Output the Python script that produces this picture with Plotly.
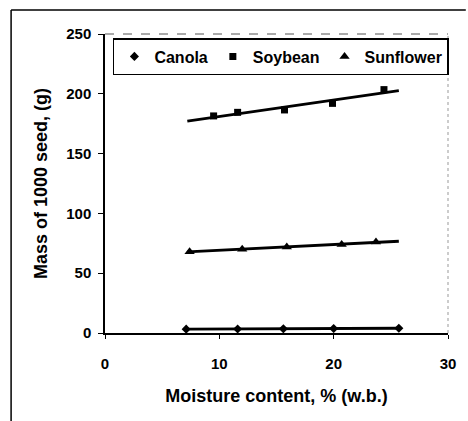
import numpy as np
import plotly.graph_objects as go

# ---- data ----
canola_x = [7.1, 11.6, 15.6, 20.0, 25.7]
canola_y = [3.2, 3.4, 3.5, 3.7, 4.0]

soybean_x = [9.5, 11.6, 15.7, 19.9, 24.4]
soybean_y = [181.5, 184.5, 186.5, 192.0, 203.5]

sunflower_x = [7.4, 12.0, 15.9, 20.7, 23.7]
sunflower_y = [68.0, 70.0, 72.0, 74.0, 76.0]

trend_x_range = [7.2, 25.7]

series_names = ["Canola", "Soybean", "Sunflower"]
series_symbols = ["diamond", "square", "triangle-up"]

x_ticks = [0, 10, 20, 30]
y_ticks = [0, 50, 100, 150, 200, 250]

FONT = "Liberation Sans, Arial, sans-serif"

fig = go.Figure()

all_x = [canola_x, soybean_x, sunflower_x]
all_y = [canola_y, soybean_y, sunflower_y]
sizes = [7, 7, 9]

for name, sym, xs, ys, sz in zip(series_names, series_symbols, all_x, all_y, sizes):
    # linear trend line (fit from the series' own points)
    k, b = np.polyfit(xs, ys, 1)
    tx = np.array(trend_x_range)
    fig.add_trace(go.Scatter(
        x=tx, y=k * tx + b, mode="lines",
        line=dict(color="black", width=2.8),
        showlegend=False, hoverinfo="skip"))
    fig.add_trace(go.Scatter(
        x=xs, y=ys, mode="markers", name=name,
        marker=dict(symbol=sym, size=sz, color="black")))

W, H = 468, 421
L, R, T, B = 105, 16, 34, 88
pw, ph = W - L - R, H - T - B


def px2paper(px, py):
    return (px - L) / pw, (H - B - py) / ph


shapes = []
# outer chart border (left and top visible in the reference)
x0, y0 = px2paper(10, 10)
x1, _ = px2paper(470, 10)
_, y1 = px2paper(10, 425)
shapes.append(dict(type="line", xref="paper", yref="paper", x0=x0, y0=y0, x1=x1, y1=y0,
                   line=dict(color="black", width=1.5)))
shapes.append(dict(type="line", xref="paper", yref="paper", x0=x0, y0=y0, x1=x0, y1=y1,
                   line=dict(color="black", width=1.5)))
# faint top and right plot-area frame
shapes.append(dict(type="line", xref="paper", yref="paper", x0=0, y0=1, x1=1, y1=1,
                   line=dict(color="#555", width=1, dash="dash")))
shapes.append(dict(type="line", xref="paper", yref="paper", x0=1, y0=0, x1=1, y1=1,
                   line=dict(color="#999", width=1, dash="dot")))

lx, ly = px2paper(113, 38)

fig.update_layout(
    width=W, height=H,
    margin=dict(l=L, r=R, t=T, b=B),
    paper_bgcolor="white", plot_bgcolor="white",
    font=dict(family=FONT, color="black", size=15),
    showlegend=True,
    legend=dict(orientation="h", x=lx, y=ly, xanchor="left", yanchor="top",
                bordercolor="black", borderwidth=1.5, bgcolor="white",
                font=dict(family=FONT, size=16, weight="bold"),
                itemwidth=30, tracegroupgap=0),
    xaxis=dict(range=[0, 30], tickvals=x_ticks, ticktext=[str(v) for v in x_ticks],
               showgrid=False, zeroline=False, showline=True, linecolor="black", linewidth=1.5,
               ticks="outside", ticklen=4, tickcolor="black",
               tickfont=dict(family=FONT, size=15, weight="bold"),
               ticklabelstandoff=12,
               title=dict(text="Moisture content, % (w.b.)",
                          font=dict(family=FONT, size=18, weight="bold"), standoff=19)),
    yaxis=dict(range=[0, 250], tickvals=y_ticks, ticktext=[str(v) for v in y_ticks],
               showgrid=False, zeroline=False, showline=True, linecolor="black", linewidth=1.5,
               ticks="outside", ticklen=5, tickcolor="black",
               tickfont=dict(family=FONT, size=15, weight="bold"),
               ticklabelstandoff=4,
               title=dict(text="Mass of 1000 seed, (g)",
                          font=dict(family=FONT, size=18, weight="bold"), standoff=14)),
    shapes=shapes,
)

fig.write_html("out.html",
               config={"displayModeBar": False},
               post_script="document.body.style.margin='0px';document.body.style.overflow='hidden';")
